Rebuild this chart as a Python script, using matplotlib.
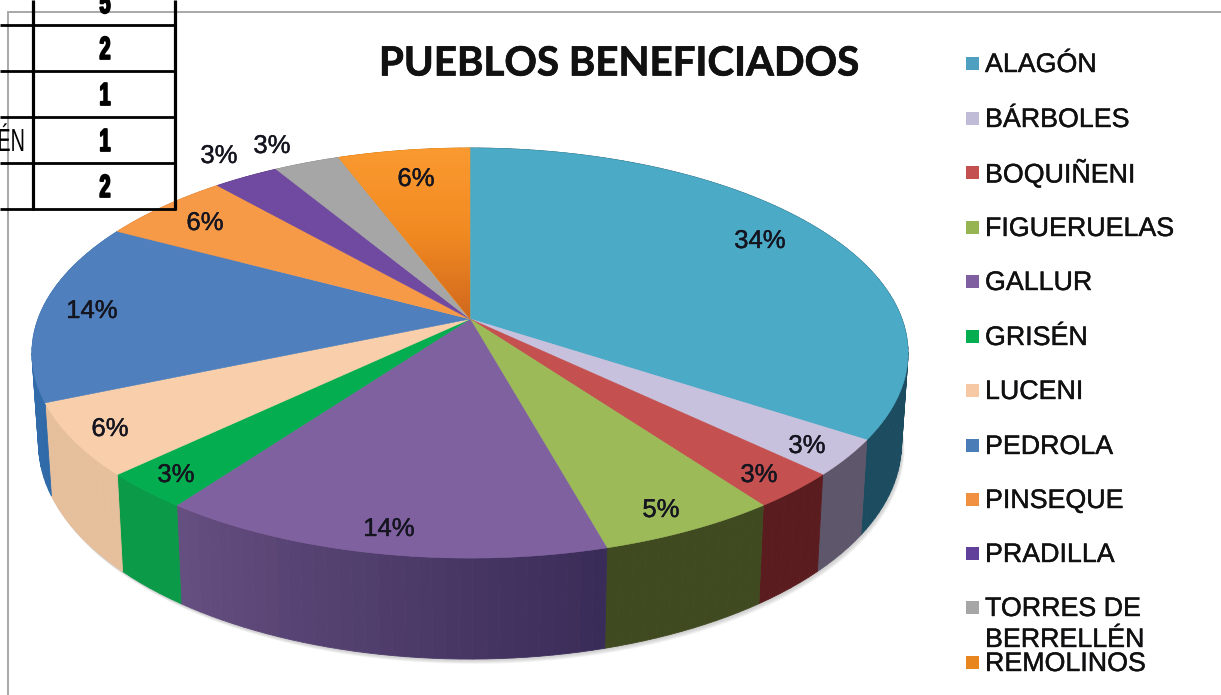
import numpy as np
import matplotlib
matplotlib.use("Agg")
import matplotlib.pyplot as plt
import matplotlib.patheffects as pe
from matplotlib.patches import Polygon, Rectangle
from matplotlib.colors import to_rgb, LinearSegmentedColormap
from matplotlib.transforms import Affine2D
from matplotlib import font_manager as fm

# ---- data ----
pueblos = ["ALAGÓN", "BÁRBOLES", "BOQUIÑENI", "FIGUERUELAS", "GALLUR", "GRISÉN",
           "LUCENI", "PEDROLA", "PINSEQUE", "PRADILLA", "TORRES DE\nBERRELLÉN", "REMOLINOS"]
beneficiados = [12, 1, 1, 2, 5, 1, 2, 5, 2, 1, 1, 2]
porcentajes = ["34%", "3%", "3%", "5%", "14%", "3%", "6%", "14%", "6%", "3%", "3%", "6%"]
tabla_valores = ["5", "2", "1", "1", "2"]
titulo = "PUEBLOS BENEFICIADOS"

# ---- styles ----
top_colors = ["#4baac6", "#c8c1dd", "#c4504f", "#9cbb58", "#8061a0", "#04ae50",
              "#f8cfaa", "#4f80bd", "#f79a48", "#6f4aa0", "#a6a6a6", "#f7941e"]
side_start = ["#1c4c60", "#5e566a", "#5a1c1f", "#404a20", "#3a2c58", "#0a9a48",
              "#e6bf9c", "#2f6aa8", "#c87a38", "#50357a", "#808080", "#b06818"]
side_end = ["#1c4c60", "#5e566a", "#5a1c1f", "#404a20", "#654e80", "#0a9a48",
            "#e6bf9c", "#3a70ae", "#c87a38", "#50357a", "#808080", "#b06818"]
legend_colors = ["#4f9fc0", "#c0bcd8", "#c4504f", "#96b552", "#7f5f9f", "#04ae50",
                 "#f6c8a4", "#4a7db8", "#f09040", "#60409a", "#a6a6a6", "#e8851e"]
label_pos = [(760, 241), (807, 446), (759, 475), (661, 510), (389, 529), (176, 475),
             (110, 429), (92, 311), (205, 223), (219, 156), (272, 146), (416, 179)]
legend_y = [63, 118, 172, 227, 281, 336, 390, 445, 499, 553, 607, 662]

avail = {f.name for f in fm.fontManager.ttflist}
title_font = "Lato" if "Lato" in avail else "Open Sans"


class Condense(pe.AbstractPathEffect):
    """Squeeze a text horizontally about a fixed display x (narrow table font)."""

    def __init__(self, x_disp, sx, stroke=0.0):
        super().__init__()
        self.x_disp, self.sx, self.stroke = x_disp, sx, stroke

    def draw_path(self, renderer, gc, tpath, affine, rgbFace=None):
        t = Affine2D().translate(-self.x_disp, 0).scale(self.sx, 1).translate(self.x_disp, 0)
        gc0 = renderer.new_gc()
        gc0.copy_properties(gc)
        gc0.set_linewidth(self.stroke)
        gc0.set_foreground("black")
        renderer.draw_path(gc0, tpath, affine + t, rgbFace)
        gc0.restore()


# ---- perspective geometry ----
CX, CY, K, A, B = 470.0, 319.0, 0.166, 432.0, 199.4


def top_ring(theta):
    u, v = np.sin(theta), np.cos(theta)
    d = 1 + K * v
    return CX + A * u / d, CY - B * v / d


def low_ring(theta):
    u, v = np.sin(theta), np.cos(theta)
    d = 1 + K * v
    return CX + 0.985 * A * u / d, CY - B * v / d + 89 - 10 * v / d


fig = plt.figure(figsize=(12.21, 6.95), dpi=100, facecolor="white")
ax = fig.add_axes([0, 0, 1, 1])
ax.set_xlim(0, 1221)
ax.set_ylim(695, 0)
ax.axis("off")

# chart frame
ax.plot([8, 8, 1221], [695, 12, 12], color="#a8a8a8", lw=1.4, zorder=1, solid_joinstyle="miter")

fractions = np.array(beneficiados, dtype=float) / np.sum(beneficiados)
edges = np.concatenate([[0], np.cumsum(fractions)]) * 2 * np.pi

# soft shadow below the pie
th = np.linspace(np.radians(60), np.radians(290), 200)
for off in [6, 5, 4, 3, 2]:
    lx, ly = low_ring(th)
    ax.add_patch(Polygon(np.column_stack([lx + off * 0.5, ly + off * 0.8]), closed=True,
                         fc="#707070", ec="none", alpha=0.07, zorder=2))

# side wall, strip by strip
for i in range(len(beneficiados)):
    a0, a1 = edges[i], edges[i + 1]
    n = max(3, int((a1 - a0) / np.radians(1.5)))
    ts = np.linspace(a0, a1, n + 1)
    c0, c1 = np.array(to_rgb(side_start[i])), np.array(to_rgb(side_end[i]))
    for j in range(n):
        t = j / max(n - 1, 1)
        col = tuple(c0 + (c1 - c0) * t)
        x0, y0 = top_ring(ts[j])
        x1, y1 = top_ring(ts[j + 1])
        x2, y2 = low_ring(ts[j + 1])
        x3, y3 = low_ring(ts[j])
        ax.add_patch(Polygon([(x0, y0), (x1, y1), (x2, y2), (x3, y3)], closed=True,
                             fc=col, ec=col, lw=0.6, zorder=3))

# top faces
for i in range(len(beneficiados)):
    ts = np.linspace(edges[i], edges[i + 1], 120)
    x, y = top_ring(ts)
    pts = np.vstack([[CX, CY], np.column_stack([x, y])])
    poly = Polygon(pts, closed=True, fc=top_colors[i], ec=top_colors[i], lw=0.4, zorder=4)
    ax.add_patch(poly)
    if i == len(beneficiados) - 1:
        cmap = LinearSegmentedColormap.from_list("g", ["#fa9a30", "#f28a22", "#d0681e"])
        g = np.linspace(0, 1, 128).reshape(-1, 1)
        im = ax.imshow(g, extent=(x.min() - 2, x.max() + 2, CY, y.min()), cmap=cmap,
                       aspect="auto", zorder=4.5)
        im.set_clip_path(poly)
ax.set_xlim(0, 1221)
ax.set_ylim(695, 0)

heavy = [pe.Stroke(linewidth=0.3, foreground="#151520"), pe.Normal()]

# data labels
for s, (lx, ly) in zip(porcentajes, label_pos):
    ax.text(lx, ly, s, ha="center", va="center", fontsize=18.5, family="Liberation Sans",
            color="#151520", zorder=6, path_effects=heavy)

# title
ax.text(619, 64, titulo, ha="center", va="center", fontsize=29, fontweight="bold",
        family=title_font, color="#111111", zorder=6,
        path_effects=[pe.Stroke(linewidth=0.5, foreground="#111111"), pe.Normal()])

# legend
for name, col, ly in zip(pueblos, legend_colors, legend_y):
    ax.add_patch(Rectangle((966, ly - 6.5), 13, 13, fc=col, ec="none", zorder=6))
    for k, part in enumerate(name.split("\n")):
        ax.text(985, ly + 2 + 31 * k, part, ha="left", va="center", fontsize=19.3,
                family="Liberation Sans", color="#101010", zorder=7, path_effects=heavy)

# table fragment overlapping the chart
for xv in (33, 175):
    ax.plot([xv, xv], [0, 210], color="black", lw=2.3, zorder=8, solid_capstyle="butt")
for yv in (25, 71, 117, 163, 209):
    ax.plot([0, 176], [yv, yv], color="black", lw=2.0, zorder=8, solid_capstyle="butt")
for s, yv in zip(tabla_valores, (5, 51, 97, 143, 189)):
    ax.text(105, yv, s, ha="center", va="center", fontsize=23, fontweight="bold",
            family="Liberation Sans", color="black", zorder=9,
            path_effects=[Condense(105, 0.62, stroke=1.3)])
ax.text(25, 143, "ÉN", ha="right", va="center", fontsize=23, family="Liberation Sans",
        color="black", zorder=9, path_effects=[Condense(25, 0.62, stroke=0.0)])

fig.savefig("out.png", dpi=100, facecolor="white")
